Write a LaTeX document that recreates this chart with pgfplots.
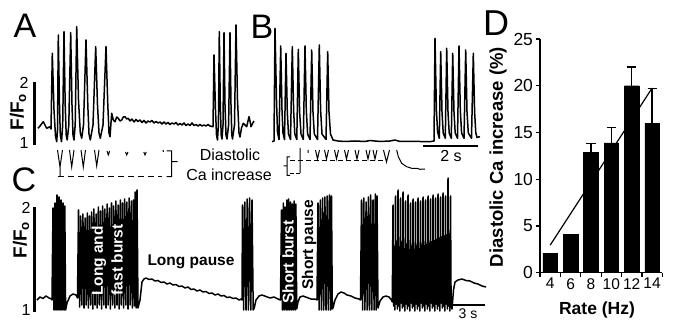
\documentclass[border=0pt]{standalone}
\usepackage{pgfplots}
\pgfplotsset{compat=1.18}
\usepackage{fontspec}
\setmainfont{Liberation Sans}
\newcommand{\fs}[1]{\fontsize{#1}{#1}\selectfont}
\begin{document}
\begin{tikzpicture}
\useasboundingbox (0,0) rectangle (674pt,320pt);
% ---------------- traces (A, B, C) in picture pixel units ----------------
\begin{axis}[at={(0pt,0pt)}, anchor=south west, width=674pt, height=320pt,
  scale only axis, xmin=0, xmax=674, ymin=0, ymax=320, y dir=reverse,
  hide axis, clip=false, unbounded coords=jump,
  trace/.style={black, line width=1.5pt, mark=none, line join=round},
  thin trace/.style={black, line width=1.5pt, mark=none, line join=round}]
% Panel A trace
\addplot[trace] coordinates {
(38,128.3)(40,126)(43.3,121.7)(46.7,128.3)(50,126.7)(51,129)
(52.3,53.3)(54,110)(55.5,136)(56.7,141.7)(57.5,130)
(58.3,35)(59.5,105)(60.3,135)(61.5,141.7)(62.7,125)
(64,31.7)(65.2,105)(66.2,135)(67.2,140)(68.8,125)
(70.7,32.7)(72,105)(73,135)(74,140)(75.2,125)
(76.7,26.7)(78.5,100)(80.3,133)(81.7,138.3)(83.5,125)
(86,40)(87.8,105)(89,134)(90.3,140)(93,125)
(95.7,46.7)(97.5,105)(99,133)(100.3,138.3)(103,125)
(106,46.7)(107.8,105)(109,133)(110,136.7)(111.7,113.3)(113.3,120)(115,121.7)
(116.7,117)(118.3,118.3)(120,121)(121.7,120)(123.3,117)(125,116.7)(126.7,119)
(128.3,118.3)(130,121)(132,119)(134,122)(136,119.5)(138,121.5)(140,120)
(142,122.5)(144,120.5)(146,123)(148,121)(150,122)(152,120.5)(154,123)
(156,121.5)(158,123)(160,122)(162,124)(164,122)(166,124)(168,122.5)
(170,124.5)(172,123)(174,124)(176,122.5)(178,125)(180,123.5)(182,125)
(184,123)(186,125.5)(188,124)(190,125.5)(192,123)(194,125.5)(196,124.5)
(198,126)(200,124.5)(202,126)(204,125)(206,126)(208,124.5)(210,126)(212,126.5)
(213,126.7)(214,55)(215.5,110)(216.5,135)(217.5,140)(218.4,125)
(219.3,31.7)(220.3,105)(221.2,135)(222,139)(223,125)
(224,32.7)(225,105)(226,135)(227,139)(228.6,125)
(230,32.7)(231,105)(231.8,135)(232.5,139)(234.5,125)
(236,25)(237.5,100)(239,133)(240,137)(241.5,128)(243.3,123.3)(245,125)
(246.7,126.7)(248,121)(249,116.7)(250,121)(251,126.7)(252.7,123.3)(254,121)
};
% Panel B trace
\addplot[trace] coordinates {
(272,141.7)(274,141)(275,28.3)(276.5,100)(277.5,132)(279,139.5)
(280.7,46)(282,110)(283,133)(284.5,139.5)
(286,53.3)(287.3,112)(288.5,134)(290.5,139.5)
(292.3,46.7)(293.6,110)(294.8,134)(296.8,139.5)
(298.3,49.3)(299.6,112)(301,134)(303.3,139.5)
(305,46)(306.3,110)(307.6,134)(310,139.5)
(311.7,50)(313,112)(314.3,134)(317.5,139.5)
(319.3,45)(320.6,110)(322,134)(326,139.5)
(327.7,51.7)(329,112)(330.5,134)(333,140)(338,141)(345,141.5)(355,141)
(365,141.5)(370,140.5)(380,141.5)(390,141)(395,140)(400,141.5)(410,141.5)
(420,141.5)(430,141.7)(434,141)
(435,38.3)(436.4,110)(437.6,132)(439.3,138.3)
(440.7,51.7)(442,112)(443.2,133)(445.3,138.3)
(446.7,48.3)(448,112)(449.2,133)(451.3,138.3)
(452.7,53.3)(454,112)(455.2,133)(457.5,138.3)
(459,46)(460.3,110)(461.6,133)(464,138.3)
(465.7,50)(467,112)(468.3,133)(471.5,138.3)
(473.3,53.3)(474.6,112)(475.8,133)(477,137.5)(478.5,137)(480,136.7)
};
% Panel C trace
\addplot[thin trace] coordinates {
(37,300)(40,297)(43,298.5)(46,296)(49,298)(51.5,299)
(52,300)(53,208)(54,310)(55,203)(56,310)(57,195)(58,310)(59,197)(60,310)
(61,200)(62,310)(63,203)(64,310)(64.8,206)(65.6,310)(67,303)(70,296)(73,294)(76,295)
(77.5,298)
(78.5,210)(79.6,307)(80.7,216)(81.8,305)(82.9,214)(84.0,308)(85.1,218)(86.2,305)
(87.3,213)(88.4,308)(89.5,216)(90.6,305)(91.7,212)(92.8,309)(93.9,209)(95.0,305)
(96.1,214)(97.2,308)(98.3,207)(99.4,305)(100.5,211)(101.6,309)(102.7,206)(103.8,305)
(104.9,209)(106.0,308)(107.1,204)(108.2,305)(109.3,208)(110.4,309)(111.5,203)(112.6,305)
(113.7,206)(114.8,308)(115.9,201)(117.0,305)(118.1,205)(119.2,309)(120.3,200)(121.4,305)
(122.5,203)(123.6,308)(124.7,199)(125.8,305)(126.9,202)(128.0,309)(129.1,198)(130.2,305)
(131.3,201)(132.4,308)(133.5,200)(134.4,306)(135.2,192)(136.1,308)(137.0,190)(138.0,308)
(140,300)(142,282)(144,279)(146,278)(149,279.5)(152,279)(155,281)(158,280.5)
(161,282.5)(164,282)(167,284)(170,283)(173,285)(176,284.5)(179,286.5)(182,286)
(185,288)(188,287)(191,289.5)(194,289)(197,291)(200,290)(203,292)(206,291.5)
(209,293.5)(212,293)(215,295)(218,294)(221,296)(224,295.5)(227,297.5)(230,297)
(233,298.5)(236,298)(239,300)(241,299)
(242,300)(242.5,205)(243.6,310)(244.8,202)(246,310)(247.2,199)(248.4,310)
(249.6,198)(250.8,310)(252,200)(253.2,310)(254.2,308)(256,300)(259,296)(262,295)
(266,296.5)(270,298)(274,297)(278,299)(280.5,300)
(281.5,210)(282.4,310)(283.3,203)(284.2,310)(285.1,207)(286,310)(286.9,200)
(287.8,310)(288.7,199)(289.6,310)(290.5,202)(291.4,310)(292.3,204)(293.2,310)
(294.1,201)(295,310)(295.9,204)(296.7,309)
(298,302)(300,297)(303,296)(307,297.5)(311,299)(315,299)(317,300)
(318,203)(319.1,310)(320.3,200)(321.4,310)(322.6,198)(323.7,310)(324.9,197)
(326,310)(327.2,196)(328.3,310)(329.5,195)(330.6,310)(331.5,196)(332.3,309)
(333,308)(335,300)(338,294)(341,292)(344,293)(347,295)(351,296)(355,298)
(359,299)(360.5,300)
(361.5,200)(362.6,310)(363.8,198)(364.9,310)(366.1,202)(367.2,310)(368.4,197)
(369.5,310)(370.7,195)(371.8,310)(373,200)(374.1,310)(375.3,194)(376.2,310)
(377,196)(378,308)(380,301)(383,297)(386,296)(389,297)(391.5,300)(392.3,302)
(393,205)(393.6,306)(394.25,262)(394.9,310)
(395.5,196)(396.1,304)(396.75,261)(397.4,309)
(398,190)(398.6,306)(399.25,259.5)(399.9,311)
(400.5,198)(401.1,303)(401.75,258)(402.4,308)
(403,192)(403.6,306)(404.25,257)(404.9,311)
(405.5,201)(406.1,304)(406.75,255.5)(407.4,309)
(408,195)(408.6,306)(409.25,254)(409.9,311)
(410.5,203)(411.1,303)(411.75,253)(412.4,308)
(413,199)(413.6,306)(414.25,251.5)(414.9,311)
(415.5,202)(416.1,304)(416.75,250)(417.4,309)
(418,198)(418.6,306)(419.25,249)(419.9,311)
(420.5,201)(421.1,303)(421.75,247.5)(422.4,308)
(423,197)(423.6,306)(424.25,246)(424.9,311)
(425.5,200)(426.1,304)(426.75,245)(427.4,309)
(428,196)(428.6,306)(429.25,243.5)(429.9,311)
(430.5,199)(431.1,303)(431.75,242)(432.4,308)
(433,195)(433.6,306)(434.25,241)(434.9,311)
(435.5,198)(436.1,304)(436.75,239.5)(437.4,309)
(438,194)(438.6,306)(439.25,238)(439.9,311)
(440.5,197)(441.1,303)(441.75,237)(442.4,308)
(443,193)(443.6,306)(444.25,236)(444.9,311)
(445.5,196)(446.1,304)(446.75,235)(447.4,309)
(448,178)(448.6,306)(449.25,234)(449.9,311)
(450.5,196)(451.1,305)
(452,309)(453.5,290)(455,282)(458,280)(462,279)(466,280.5)(470,281)(474,283)
(478,284)(482,286)(486,287)
};
% scale bars
\addplot[black, line width=3pt] coordinates {(34,82)(34,145)};
\addplot[black, line width=3pt] coordinates {(34,207)(34,312)};
\addplot[black, line width=2.5pt] coordinates {(423,146)(478,146)};
\addplot[black, line width=2.5pt] coordinates {(451.7,305)(485,305)};
% diastolic level markers under A
\addplot[black, line width=1pt] coordinates {
(57.5,150)(60,167)(62.5,150)(nan,nan)(60,167)(60,176.7)(nan,nan)
(69.5,150)(71.7,167)(74,150)(nan,nan)
(81,150)(83.3,167)(85.5,150)(nan,nan)
(94.5,150)(96.7,166)(99,150)(nan,nan)
(107,151)(108.3,155)(109.7,151)(nan,nan)
(125.5,152)(126.7,155)(128,152)(nan,nan)
(143.8,152)(145,155)(146.2,152)(nan,nan)
(163,150)(163.5,152)(nan,nan)
(166.7,151)(171.5,151)(171.5,176.7)(166.7,176.7)(nan,nan)
(171.5,161.7)(177.5,161.7)
};
\addplot[black, line width=1pt, dash pattern=on 6pt off 4pt] coordinates {(58,176.7)(162,176.7)};
% diastolic level markers under B
\addplot[black, line width=1pt] coordinates {
(290,157)(287,157)(287,175.5)(290,175.5)(nan,nan)(287,166)(283.5,166)(nan,nan)
(300,148)(300,173)(nan,nan)
(308,150)(308,153)(nan,nan)
(315.5,150)(317.5,159)(319.5,150)(nan,nan)
(324.5,150)(326.5,159)(328.5,150)(nan,nan)
(334.5,150)(336.5,159)(338.5,150)(nan,nan)
(344.5,150)(346.5,159)(348.5,150)(nan,nan)
(355,150)(357,159)(359,150)(nan,nan)
(366,150)(368,159)(370,150)(nan,nan)
(373,150)(375,159)(377,150)(nan,nan)
(383.5,150)(386.5,162)(389.5,150)(nan,nan)
(396.7,150)(398.3,156.7)(401.7,163.3)(406.7,166.7)(411.7,168.3)(416.7,168.3)(420,169.3)(425,169)
};
\addplot[black, line width=1pt, dash pattern=on 5pt off 3pt] coordinates {(290,160.5)(384,160.5)};
\addplot[black, line width=1pt, dash pattern=on 4pt off 2pt] coordinates {(290,173.5)(300,173.5)};
% texts
\node[font=\fs{34}] at (25,26) {A};
\node[font=\fs{34}] at (262,27) {B};
\node[font=\fs{34}] at (24,180) {C};
\node[font=\fs{36}] at (496,23) {D};
\node[font=\fs{16}] at (24,83) {2};
\node[font=\fs{16}] at (24,143) {1};
\node[font=\fs{16}] at (26,208) {2};
\node[font=\fs{16}] at (26,310) {1};
\node[font=\fs{19}\bfseries, rotate=90] at (18,112) {F/F\textsubscript{o}};
\node[font=\fs{19}\bfseries, rotate=90] at (21,240) {F/F\textsubscript{o}};
\node[font=\fs{16}] at (230,155) {Diastolic};
\node[font=\fs{16}] at (229,175) {Ca increase};
\node[font=\fs{16}] at (451,156) {2 s};
\node[font=\fs{14}] at (468,313.5) {3 s};
\node[font=\fs{15.5}\bfseries] at (191,262) {Long pause};
\node[font=\fs{15.5}\bfseries, white, rotate=90] at (99,261) {Long and};
\node[font=\fs{15.5}\bfseries, white, rotate=90] at (117,260) {fast burst};
\node[font=\fs{15.5}\bfseries, white, rotate=90] at (288,262) {Short burst};
\node[font=\fs{15.5}\bfseries, rotate=90] at (309,245) {Short pause};
\node[font=\fs{18.5}\bfseries, rotate=90] at (498,157) {Diastolic Ca increase (\%)};
\node[font=\fs{17.5}\bfseries] at (597,310) {Rate (Hz)};
\end{axis}
% ---------------- Panel D bar chart ----------------
\begin{axis}[at={(540pt,47.3pt)}, anchor=south west, width=122.3pt, height=233.7pt,
  scale only axis, xmin=3, xmax=15, ymin=0, ymax=25,
  axis x line*=bottom, axis y line*=left,
  axis line style={black, line width=1.5pt},
  xtick={3,5,...,15}, xticklabels={},
  extra x ticks={4,6,...,14}, extra x tick labels={4,6,8,10,12,14},
  extra x tick style={major tick length=0pt},
  ytick={0,5,...,25},
  tick align=outside, major tick length=4.5pt,
  tick style={black, line width=1.3pt},
  yticklabel style={font=\fs{17.5}, xshift=1pt},
  xticklabel style={font=\fs{15.5}, yshift=-2pt},
  /pgf/number format/assume math mode=true,
  unbounded coords=jump, clip=false]
\addplot[ybar, bar width=1.44, fill=black, draw=black] coordinates {
(4,2.1)(6,4.1)(8,12.9)(10,13.9)(12,20.0)(14,16.0)};
\addplot[black, line width=1.3pt] coordinates {
(8,12.9)(8,13.8)(nan,nan)(7.55,13.8)(8.45,13.8)(nan,nan)
(10,13.9)(10,15.5)(nan,nan)(9.55,15.5)(10.45,15.5)(nan,nan)
(12,20.0)(12,22.0)(nan,nan)(11.55,22.0)(12.45,22.0)(nan,nan)
(14,16.0)(14,19.7)(nan,nan)(13.55,19.7)(14.45,19.7)};
\addplot[black, line width=1.2pt] coordinates {(4,2.95)(14,19.75)};
\end{axis}
\end{tikzpicture}
\end{document}
